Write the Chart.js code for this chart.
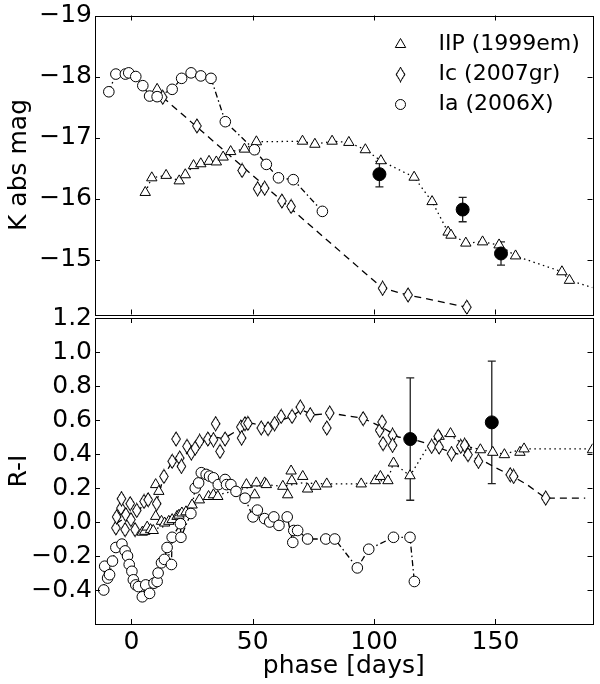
<!DOCTYPE html>
<html>
<head>
<meta charset="utf-8">
<title>K abs mag and R-I versus phase</title>
<script src="https://cdn.jsdelivr.net/npm/chart.js@4.4.1/dist/chart.umd.min.js"></script>
<style>
  html, body { margin: 0; padding: 0; background: #fff; }
  #wrap { position: relative; width: 600px; height: 684px; overflow: hidden; }
  #wrap canvas { position: absolute; left: 0; }
  #topCanvas { top: 0; }
  #botCanvas { top: 290px; }
</style>
</head>
<body>
<div id="wrap">
  <canvas id="topCanvas" width="600" height="330"></canvas>
  <canvas id="botCanvas" width="600" height="394"></canvas>
</div>
<script>
Chart.defaults.font.family = "'DejaVu Sans', sans-serif";
Chart.defaults.color = '#000';

// ---- ticks ----
const phaseTicks = [0, 50, 100, 150];
const kTicks = [-19, -18, -17, -16, -15];
const riTicks = [-0.4, -0.2, 0.0, 0.2, 0.4, 0.6, 0.8, 1.0, 1.2];

// ---- top panel: K abs mag ----
const iipPhaseK = [5.7, 8.4, 10.6, 14.3, 19.7, 22.2, 25.6, 28.6, 32.0, 35.0, 37.8, 40.9, 46.6, 51.5, 70.5, 75.6, 82.7, 89.6, 96.4, 102.8, 116.5, 123.9, 130.5, 131.7, 137.8, 144.7, 151.5, 158.3, 177.4, 180.5];
const iipK = [-16.10, -16.34, -17.79, -16.38, -16.29, -16.39, -16.54, -16.57, -16.61, -16.60, -16.68, -16.77, -16.81, -16.93, -16.94, -16.89, -16.94, -16.92, -16.80, -16.62, -16.35, -15.95, -15.45, -15.40, -15.27, -15.29, -15.24, -15.06, -14.80, -14.66];
const iipLinePhaseK = [5.7, 8.4, 14.3, 19.7, 22.2, 25.6, 28.6, 32.0, 35.0, 37.8, 40.9, 46.6, 51.5, 70.5, 75.6, 82.7, 89.6, 96.4, 102.8, 116.5, 123.9, 130.5, 137.8, 144.7, 151.5, 158.3, 177.4, 180.5, 190];
const iipLineK = [-16.10, -16.34, -16.38, -16.29, -16.39, -16.54, -16.57, -16.61, -16.60, -16.68, -16.77, -16.81, -16.93, -16.94, -16.89, -16.94, -16.92, -16.80, -16.62, -16.35, -15.95, -15.45, -15.27, -15.29, -15.24, -15.06, -14.80, -14.66, -14.54];

const icPhaseK = [12.9, 27.0, 45.6, 52.0, 54.9, 62.0, 65.8, 103.5, 114.0, 138.2];
const icK = [-17.66, -17.19, -16.46, -16.16, -16.17, -15.96, -15.87, -14.53, -14.42, -14.22];
const icLinePhaseK = [12.9, 103.5, 114.0, 138.2];
const icLineK = [-17.66, -14.53, -14.42, -14.22];

const iaPhaseK = [-9.3, -6.4, -2.5, -1.1, 1.8, 4.7, 7.5, 10.6, 16.8, 20.7, 24.6, 28.6, 32.8, 38.7, 50.7, 55.6, 60.6, 66.7, 78.7];
const iaK = [-17.75, -18.04, -18.04, -18.06, -18.00, -17.85, -17.68, -17.67, -17.79, -17.97, -18.06, -18.01, -17.97, -17.26, -16.80, -16.56, -16.34, -16.31, -15.79];

const obsPhaseK = [102.2, 136.5, 152.3];
const obsK = [-16.40, -15.82, -15.10];
const obsKErr = [0.21, 0.20, 0.19];

// ---- bottom panel: R-I ----
const iipPhaseRI = [4.5, 5.5, 6.5, 7.9, 9.0, 10.0, 10.0, 11.3, 12.4, 13.7, 15.4, 16.8, 18.8, 19.6, 20.8, 22.5, 25.0, 28.0, 31.8, 33.8, 35.6, 47.4, 50.8, 51.5, 54.9, 55.6, 62.4, 64.4, 65.8, 66.1, 70.6, 72.6, 76.0, 80.5, 94.7, 100.5, 102.6, 105.7, 108.0, 114.8, 126.8, 131.5, 138.0, 143.8, 148.9, 153.7, 160.1, 161.8, 190.0];
const iipRI = [-0.06, -0.055, -0.03, -0.045, -0.05, 0.033, 0.22, 0.18, 0.004, -0.006, 0.004, 0.014, 0.033, 0.04, 0.053, 0.06, 0.10, 0.13, 0.15, 0.16, 0.15, 0.22, 0.16, 0.23, 0.23, 0.22, 0.21, 0.16, 0.30, 0.243, 0.268, 0.194, 0.21, 0.224, 0.224, 0.243, 0.268, 0.243, 0.347, 0.272, 0.504, 0.52, 0.445, 0.425, 0.41, 0.396, 0.41, 0.43, 0.425];
const iipLinePhaseRI = [4.5, 10, 15, 20, 25, 31.8, 35.6, 47.4, 55, 62.4, 70.6, 80.5, 94.7, 100.5, 105.7, 108.0, 114.8, 122, 126.8, 131.5, 138, 148.9, 153.7, 161.8, 190];
const iipLineRI = [-0.05, -0.04, -0.02, 0.04, 0.09, 0.15, 0.16, 0.20, 0.22, 0.21, 0.23, 0.224, 0.224, 0.235, 0.25, 0.347, 0.272, 0.44, 0.50, 0.51, 0.445, 0.41, 0.40, 0.43, 0.43];

const icPhaseRI = [-6.4, -6.1, -4.3, -4.1, -2.6, -2.3, -0.5, -0.2, 1.5, 2.2, 5.2, 6.9, 10.4, 13.4, 16.8, 18.4, 19.9, 20.6, 22.9, 24.7, 26.3, 28.1, 31.5, 33.8, 34.7, 36.5, 38.6, 45.1, 45.4, 46.8, 48.0, 53.5, 56.3, 59.0, 61.7, 66.2, 69.6, 73.7, 80.5, 81.7, 95.5, 102.3, 103.3, 103.7, 107.6, 107.6, 123.7, 126.4, 126.8, 131.9, 135.7, 137.3, 138.7, 143.0, 156.1, 157.5, 170.7];
const icRI = [-0.035, 0.03, 0.082, 0.137, -0.045, 0.043, 0.108, 0.014, -0.045, 0.068, 0.121, 0.131, 0.108, 0.268, 0.357, 0.488, 0.376, 0.327, 0.445, 0.406, 0.435, 0.474, 0.488, 0.484, 0.578, 0.415, 0.488, 0.559, 0.494, 0.578, 0.58, 0.553, 0.549, 0.578, 0.621, 0.621, 0.676, 0.631, 0.553, 0.641, 0.608, 0.539, 0.588, 0.461, 0.51, 0.451, 0.445, 0.504, 0.441, 0.402, 0.445, 0.451, 0.396, 0.357, 0.278, 0.268, 0.141];
const icLinePhaseRI = [-6.4, -2, 2, 6, 10.4, 13.4, 17, 20, 25, 30, 34, 38, 45, 50, 56, 60, 66, 70, 75, 82, 95.5, 103, 110, 115, 121, 126, 132, 140, 145, 150, 157, 163, 170.7, 187];
const icLineRI = [-0.01, 0.03, 0.05, 0.12, 0.12, 0.27, 0.36, 0.38, 0.42, 0.48, 0.50, 0.49, 0.55, 0.58, 0.56, 0.59, 0.62, 0.66, 0.63, 0.64, 0.61, 0.56, 0.50, 0.49, 0.465, 0.44, 0.41, 0.38, 0.36, 0.32, 0.27, 0.22, 0.14, 0.14];

const iaPhaseRI = [-11.4, -11.0, -9.8, -9.0, -7.8, -6.4, -3.9, -2.6, -1.6, -0.9, 0.2, 0.8, 1.8, 2.9, 4.5, 5.9, 7.5, 9.3, 10.6, 11.0, 12.4, 13.6, 14.7, 16.5, 16.8, 20.2, 20.4, 24.5, 26.3, 27.7, 28.8, 30.8, 32.2, 33.8, 35.8, 38.6, 39.2, 41.0, 43.1, 46.8, 50.1, 51.9, 54.9, 57.0, 58.7, 60.8, 64.2, 66.5, 66.9, 68.5, 72.6, 80.1, 83.8, 93.1, 97.8, 108.0, 114.8, 116.6];
const iaRI = [-0.40, -0.26, -0.33, -0.31, -0.23, -0.15, -0.13, -0.17, -0.20, -0.25, -0.29, -0.34, -0.37, -0.38, -0.44, -0.37, -0.42, -0.36, -0.35, -0.30, -0.24, -0.22, -0.15, -0.25, -0.09, -0.01, -0.09, 0.05, 0.20, 0.23, 0.29, 0.28, 0.27, 0.26, 0.22, 0.25, 0.22, 0.22, 0.18, 0.14, 0.03, 0.07, 0.02, 0.00, 0.03, -0.02, 0.03, -0.12, -0.05, -0.05, -0.10, -0.10, -0.10, -0.27, -0.16, -0.09, -0.09, -0.35];

const obsPhaseRI = [114.9, 148.5];
const obsRI = [0.488, 0.586];
const obsRIErr = [0.36, 0.36];

const legendLabels = ['IIP (1999em)', 'Ic (2007gr)', 'Ia (2006X)'];

// ---------------------------------------------------------------
const pts = (xs, ys) => xs.map((x, i) => ({ x: x, y: ys[i] }));
const minus = s => String(s).replace('-', '\u2212');

// thin diamond marker (matplotlib 'd'), drawn at 3x and shown at 11x16
const diamondSrc = document.createElement('canvas');
diamondSrc.width = 33; diamondSrc.height = 48;
(function () {
  const c = diamondSrc.getContext('2d');
  c.beginPath();
  c.moveTo(16.5, 3); c.lineTo(29.4, 24); c.lineTo(16.5, 45); c.lineTo(3.6, 24); c.closePath();
  c.fillStyle = '#fff'; c.fill();
  c.strokeStyle = '#000'; c.lineWidth = 3; c.stroke();
})();
const diamond = new Image();
diamond.width = 11; diamond.height = 16;

const marker = (data, style, r) => ({
  data: data, pointStyle: style, pointRadius: r, pointHoverRadius: r,
  pointBackgroundColor: '#fff', pointBorderColor: '#000', pointBorderWidth: 1,
  showLine: false
});
const curve = (data, dash) => ({
  data: data, showLine: true, pointRadius: 0, pointHoverRadius: 0,
  borderColor: '#000', borderWidth: 1.3, borderDash: dash, fill: false, order: 10
});
const filled = data => ({
  data: data, pointStyle: 'circle', pointRadius: 6.5, pointHoverRadius: 6.5,
  pointBackgroundColor: '#000', pointBorderColor: '#000', pointBorderWidth: 1, showLine: false
});

const frameTicks = {
  id: 'frameTicks',
  afterDraw(chart, args, opts) {
    const { ctx, chartArea: a, scales } = chart;
    ctx.save();
    ctx.strokeStyle = '#000';
    ctx.lineWidth = 1;
    ctx.beginPath();
    opts.xTicks.forEach(v => {
      const px = Math.round(scales.x.getPixelForValue(v)) + 0.5;
      ctx.moveTo(px, a.top); ctx.lineTo(px, a.top + 5);
      ctx.moveTo(px, a.bottom); ctx.lineTo(px, a.bottom - 5);
    });
    opts.yTicks.forEach(v => {
      const py = Math.round(scales.y.getPixelForValue(v)) + 0.5;
      ctx.moveTo(a.left, py); ctx.lineTo(a.left + 5, py);
      ctx.moveTo(a.right, py); ctx.lineTo(a.right - 5, py);
    });
    ctx.stroke();
    ctx.strokeRect(Math.round(a.left) + 0.5, Math.round(a.top) + 0.5,
      Math.round(a.right - a.left), Math.round(a.bottom - a.top));
    ctx.restore();
  }
};

const errorBars = {
  id: 'errorBars',
  beforeDatasetsDraw(chart, args, opts) {
    const { ctx, scales } = chart;
    ctx.save();
    ctx.strokeStyle = '#222';
    ctx.lineWidth = 1.3;
    opts.phase.forEach((p, i) => {
      const x = scales.x.getPixelForValue(p);
      const y1 = scales.y.getPixelForValue(opts.value[i] - opts.err[i]);
      const y2 = scales.y.getPixelForValue(opts.value[i] + opts.err[i]);
      ctx.beginPath();
      ctx.moveTo(x, y1); ctx.lineTo(x, y2);
      ctx.moveTo(x - 4, y1); ctx.lineTo(x + 4, y1);
      ctx.moveTo(x - 4, y2); ctx.lineTo(x + 4, y2);
      ctx.stroke();
    });
    ctx.restore();
  }
};

const legendBox = {
  id: 'legendBox',
  afterDraw(chart) {
    const { ctx, chartArea: a } = chart;
    const mx = a.right - 192, tx = a.right - 154;
    ctx.save();
    ctx.font = "22px 'DejaVu Sans', sans-serif";
    ctx.textBaseline = 'middle';
    ctx.fillStyle = '#000';
    legendLabels.forEach((t, i) => {
      ctx.fillText(t, tx, a.top + 29 + i * 30);
    });
    ctx.strokeStyle = '#000'; ctx.lineWidth = 1;
    // triangle
    let y = a.top + 29, r = 6;
    ctx.beginPath();
    ctx.moveTo(mx, y - r);
    ctx.lineTo(mx + r * 0.866, y + r * 0.5);
    ctx.lineTo(mx - r * 0.866, y + r * 0.5);
    ctx.closePath();
    ctx.fillStyle = '#fff'; ctx.fill(); ctx.stroke();
    // diamond
    y = a.top + 59;
    ctx.drawImage(diamond, mx - 5.5, y - 8, 11, 16);
    // circle
    y = a.top + 89;
    ctx.beginPath(); ctx.arc(mx, y, 5, 0, Math.PI * 2);
    ctx.fill(); ctx.stroke();
    ctx.restore();
  }
};

const tickFont = { size: 25, lineHeight: 1 };
const yFit = s => { s.width = 95; };

function drawCharts() {
  // ---- top chart ----
  new Chart(document.getElementById('topCanvas'), {
    type: 'scatter',
    data: {
      datasets: [
        filled(pts(obsPhaseK, obsK)),
        marker(pts(iaPhaseK, iaK), 'circle', 5.3),
        marker(pts(icPhaseK, icK), diamond, 5),
        marker(pts(iipPhaseK, iipK), 'triangle', 6),
        curve(pts(iaPhaseK, iaK), [6, 3, 1.5, 3]),
        curve(pts(icLinePhaseK, icLineK), [7, 5]),
        curve(pts(iipLinePhaseK, iipLineK), [1.5, 3.5])
      ]
    },
    options: {
      responsive: false,
      animation: false,
      events: [],
      layout: { padding: { top: 13, right: 3, bottom: 12, left: 0 } },
      scales: {
        x: { type: 'linear', min: -15, max: 190, display: false },
        y: {
          type: 'linear', min: -19, max: -14.1, reverse: true,
          afterFit: yFit,
          afterBuildTicks: s => { s.ticks = kTicks.map(v => ({ value: v })); },
          grid: { display: false, drawTicks: false },
          border: { display: false },
          ticks: { font: tickFont, padding: 3, callback: v => minus(v) },
          title: { display: true, text: 'K abs mag', font: { size: 25 }, padding: { top: 4, bottom: 0 } }
        }
      },
      plugins: {
        legend: { display: false },
        tooltip: { enabled: false },
        frameTicks: { xTicks: phaseTicks, yTicks: kTicks },
        errorBars: { phase: obsPhaseK, value: obsK, err: obsKErr }
      }
    },
    plugins: [frameTicks, errorBars, legendBox]
  });

  // ---- bottom chart ----
  new Chart(document.getElementById('botCanvas'), {
    type: 'scatter',
    data: {
      datasets: [
        filled(pts(obsPhaseRI, obsRI)),
        marker(pts(iaPhaseRI, iaRI), 'circle', 5.3),
        marker(pts(icPhaseRI, icRI), diamond, 5),
        marker(pts(iipPhaseRI, iipRI), 'triangle', 6),
        curve(pts(iaPhaseRI, iaRI), [6, 3, 1.5, 3]),
        curve(pts(icLinePhaseRI, icLineRI), [7, 5]),
        curve(pts(iipLinePhaseRI, iipLineRI), [1.5, 3.5])
      ]
    },
    options: {
      responsive: false,
      animation: false,
      events: [],
      layout: { padding: { top: 28, right: 3, bottom: 0, left: 0 } },
      scales: {
        x: {
          type: 'linear', min: -15, max: 190,
          afterFit: s => { s.height = 60; },
          afterBuildTicks: s => { s.ticks = phaseTicks.map(v => ({ value: v })); },
          grid: { display: false, drawTicks: false },
          border: { display: false },
          ticks: { font: tickFont, padding: 6, maxRotation: 0, autoSkip: false },
          title: { display: true, text: 'phase [days]', font: { size: 25 }, padding: { top: 0, bottom: 3 } }
        },
        y: {
          type: 'linear', min: -0.6, max: 1.2,
          afterFit: yFit,
          afterBuildTicks: s => { s.ticks = riTicks.map(v => ({ value: v })); },
          grid: { display: false, drawTicks: false },
          border: { display: false },
          ticks: { font: tickFont, padding: 3, callback: v => minus(Number(v).toFixed(1)) },
          title: { display: true, text: 'R-I', font: { size: 25 }, padding: { top: 4, bottom: 0 } }
        }
      },
      plugins: {
        legend: { display: false },
        tooltip: { enabled: false },
        frameTicks: { xTicks: phaseTicks, yTicks: riTicks },
        errorBars: { phase: obsPhaseRI, value: obsRI, err: obsRIErr }
      }
    },
    plugins: [frameTicks, errorBars]
  });
}

diamond.onload = drawCharts;
diamond.src = diamondSrc.toDataURL();
</script>
</body>
</html>
